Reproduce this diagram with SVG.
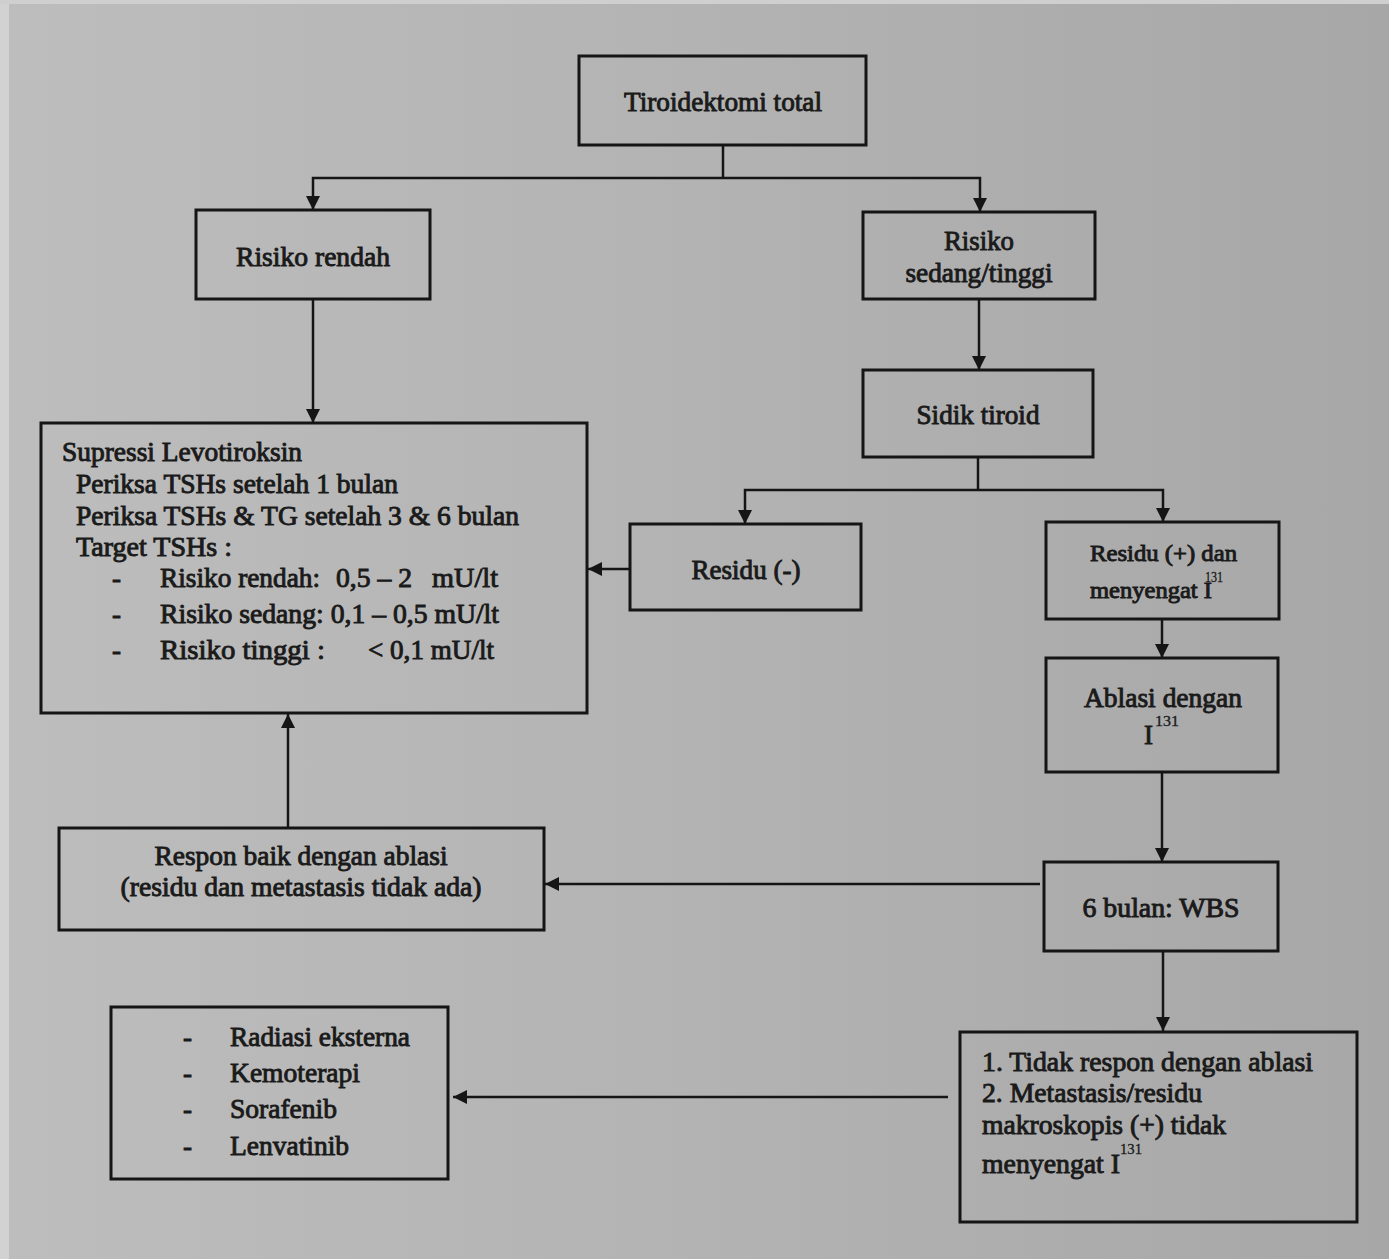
<svg xmlns="http://www.w3.org/2000/svg" width="1389" height="1259" viewBox="0 0 1389 1259">
  <defs>
    <linearGradient id="paper" x1="0" y1="0" x2="1" y2="0">
      <stop offset="0" stop-color="#bdbdbd"/>
      <stop offset="0.5" stop-color="#b3b3b3"/>
      <stop offset="1" stop-color="#a7a7a7"/>
    </linearGradient>
    <marker id="arrow" viewBox="0 0 10 10" refX="10" refY="5" markerWidth="14" markerHeight="14" markerUnits="userSpaceOnUse" orient="auto">
      <path d="M0,0 L10,5 L0,10 Z" fill="#151515"/>
    </marker>
    <style>
      .box { fill: none; stroke: #151515; stroke-width: 3; }
      .wire { fill: none; stroke: #151515; stroke-width: 2.5; }
      .arr { marker-end: url(#arrow); }
      text { font-family: "Liberation Serif", "Times New Roman", serif; font-size: 27px; fill: #1a1a1a; stroke: #1a1a1a; stroke-width: 0.9; }
      .c { text-anchor: middle; }
      .s { font-size: 23px; }
      .sup { font-size: 14px; stroke-width: 0.3; }
    </style>
  </defs>

  <!-- paper background -->
  <rect x="0" y="0" width="1389" height="1259" fill="url(#paper)"/>
  <rect x="0" y="0" width="9" height="1259" fill="#d2d2d2"/>
  <rect x="0" y="0" width="1389" height="4" fill="#cfcfcf"/>

  <!-- connectors -->
  <g id="connectors">
    <path class="wire" d="M723,145 V178"/>
    <path class="wire arr" d="M723,178 H313 V210"/>
    <path class="wire arr" d="M723,178 H980 V212"/>
    <path class="wire arr" d="M313,299 V423"/>
    <path class="wire arr" d="M979,299 V370"/>
    <path class="wire" d="M978,457 V490"/>
    <path class="wire arr" d="M978,490 H745 V524"/>
    <path class="wire arr" d="M978,490 H1163 V522"/>
    <path class="wire arr" d="M630,569 H588"/>
    <path class="wire arr" d="M1162,619 V658"/>
    <path class="wire arr" d="M1162,772 V862"/>
    <path class="wire arr" d="M1040,884 H545"/>
    <path class="wire arr" d="M288,828 V714"/>
    <path class="wire arr" d="M1163,951 V1031"/>
    <path class="wire arr" d="M948,1097 H453"/>
  </g>

  <g id="tiroidektomi">
    <rect class="box" x="579" y="56" width="287" height="89"/>
    <text class="c" x="723" y="111" textLength="198" lengthAdjust="spacingAndGlyphs">Tiroidektomi total</text>
  </g>

  <g id="risiko-rendah">
    <rect class="box" x="196" y="210" width="234" height="89"/>
    <text class="c" x="313" y="266" textLength="154" lengthAdjust="spacingAndGlyphs">Risiko rendah</text>
  </g>

  <g id="risiko-sedang-tinggi">
    <rect class="box" x="863" y="212" width="232" height="87"/>
    <text class="c" x="979" y="250" textLength="70" lengthAdjust="spacingAndGlyphs">Risiko</text>
    <text class="c" x="979" y="282" textLength="147" lengthAdjust="spacingAndGlyphs">sedang/tinggi</text>
  </g>

  <g id="sidik-tiroid">
    <rect class="box" x="863" y="370" width="230" height="87"/>
    <text class="c" x="978" y="424" textLength="123" lengthAdjust="spacingAndGlyphs">Sidik tiroid</text>
  </g>

  <g id="residu-negatif">
    <rect class="box" x="630" y="524" width="231" height="86"/>
    <text class="c" x="746" y="579" textLength="109" lengthAdjust="spacingAndGlyphs">Residu (-)</text>
  </g>

  <g id="residu-positif">
    <rect class="box" x="1046" y="522" width="233" height="97"/>
    <text class="s" x="1090" y="561" textLength="147" lengthAdjust="spacingAndGlyphs">Residu (+) dan</text>
    <text class="s" x="1090" y="598" textLength="122" lengthAdjust="spacingAndGlyphs">menyengat I</text>
    <text class="sup" x="1205" y="582" textLength="18" lengthAdjust="spacingAndGlyphs">131</text>
  </g>

  <g id="ablasi">
    <rect class="box" x="1046" y="658" width="232" height="114"/>
    <text class="c" x="1163" y="707" textLength="158" lengthAdjust="spacingAndGlyphs">Ablasi dengan</text>
    <text x="1144" y="744">I</text>
    <text class="sup" x="1155" y="726" textLength="24" lengthAdjust="spacingAndGlyphs">131</text>
  </g>

  <g id="wbs">
    <rect class="box" x="1044" y="862" width="234" height="89"/>
    <text class="c" x="1161" y="917" textLength="157" lengthAdjust="spacingAndGlyphs">6 bulan: WBS</text>
  </g>

  <g id="supresi">
    <rect class="box" x="41" y="423" width="546" height="290"/>
    <text x="62" y="461" textLength="240" lengthAdjust="spacingAndGlyphs">Supressi Levotiroksin</text>
    <text x="76" y="493" textLength="322" lengthAdjust="spacingAndGlyphs">Periksa TSHs setelah 1 bulan</text>
    <text x="76" y="525" textLength="443" lengthAdjust="spacingAndGlyphs">Periksa TSHs &amp; TG setelah 3 &amp; 6 bulan</text>
    <text x="76" y="556" textLength="156" lengthAdjust="spacingAndGlyphs">Target TSHs :</text>
    <text x="112" y="587">-</text>
    <text x="160" y="587" textLength="160" lengthAdjust="spacingAndGlyphs">Risiko rendah:</text>
    <text x="336" y="587" textLength="76" lengthAdjust="spacingAndGlyphs">0,5 – 2</text>
    <text x="432" y="587" textLength="66" lengthAdjust="spacingAndGlyphs">mU/lt</text>
    <text x="112" y="623">-</text>
    <text x="160" y="623" textLength="339" lengthAdjust="spacingAndGlyphs">Risiko sedang: 0,1 – 0,5 mU/lt</text>
    <text x="112" y="659">-</text>
    <text x="160" y="659" textLength="165" lengthAdjust="spacingAndGlyphs">Risiko tinggi  :</text>
    <text x="368" y="659" textLength="126" lengthAdjust="spacingAndGlyphs">&lt; 0,1 mU/lt</text>
  </g>

  <g id="respon-baik">
    <rect class="box" x="59" y="828" width="485" height="102"/>
    <text class="c" x="301" y="865" textLength="293" lengthAdjust="spacingAndGlyphs">Respon baik dengan ablasi</text>
    <text class="c" x="301" y="896" textLength="361" lengthAdjust="spacingAndGlyphs">(residu dan metastasis tidak ada)</text>
  </g>

  <g id="tidak-respon">
    <rect class="box" x="960" y="1032" width="397" height="190"/>
    <text x="982" y="1071" textLength="331" lengthAdjust="spacingAndGlyphs">1. Tidak respon dengan ablasi</text>
    <text x="982" y="1102" textLength="220" lengthAdjust="spacingAndGlyphs">2. Metastasis/residu</text>
    <text x="982" y="1134" textLength="244" lengthAdjust="spacingAndGlyphs">makroskopis (+) tidak</text>
    <text x="982" y="1173" textLength="138" lengthAdjust="spacingAndGlyphs">menyengat I</text>
    <text class="sup" x="1120" y="1154" textLength="22" lengthAdjust="spacingAndGlyphs">131</text>
  </g>

  <g id="terapi-lanjut">
    <rect class="box" x="111" y="1007" width="337" height="172"/>
    <text x="183" y="1046">-</text>
    <text x="230" y="1046" textLength="180" lengthAdjust="spacingAndGlyphs">Radiasi eksterna</text>
    <text x="183" y="1082">-</text>
    <text x="230" y="1082" textLength="130" lengthAdjust="spacingAndGlyphs">Kemoterapi</text>
    <text x="183" y="1118">-</text>
    <text x="230" y="1118" textLength="107" lengthAdjust="spacingAndGlyphs">Sorafenib</text>
    <text x="183" y="1155">-</text>
    <text x="230" y="1155" textLength="119" lengthAdjust="spacingAndGlyphs">Lenvatinib</text>
  </g>
</svg>
